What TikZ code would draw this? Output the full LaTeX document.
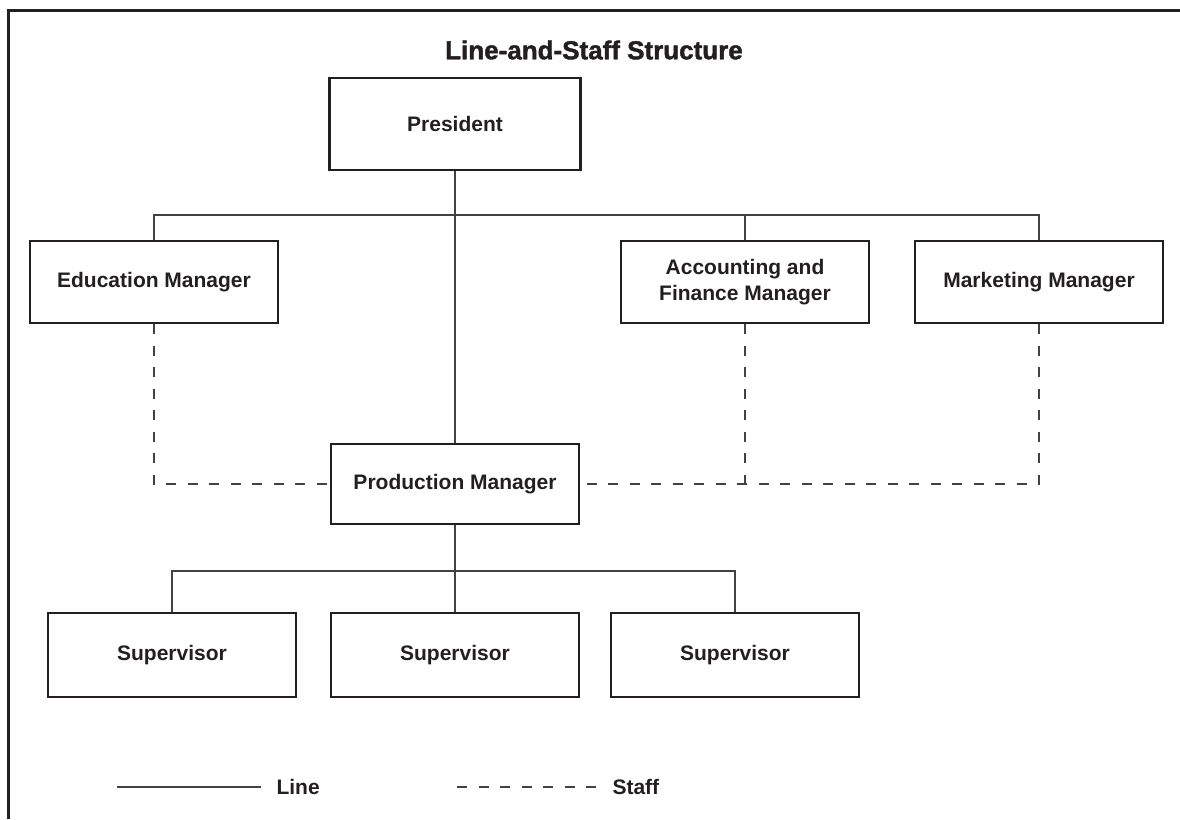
\documentclass[tikz,border=0pt]{standalone}
\usepackage{fontspec}
\setmainfont{Liberation Sans}
\newfontfamily\heavyfont[FakeBold=1.5]{Liberation Sans Bold}
\usetikzlibrary{positioning}
\definecolor{ink}{HTML}{231F20}

\tikzset{
  box/.style={draw=ink, line width=2.6pt, minimum width=248pt, minimum height=82pt,
    inner sep=0pt, align=center, text=ink, font=\fontsize{21}{26}\selectfont\bfseries},
  solidlink/.style={draw=ink!85, line width=1.1pt},
  stafflink/.style={draw=ink!85, line width=1.1pt, dash pattern=on 10pt off 11.5pt},
  legendtext/.style={text=ink, font=\fontsize{21}{26}\selectfont\bfseries}
}

\begin{document}
\begin{tikzpicture}[x=1pt, y=-1pt, node distance=12pt]
  \useasboundingbox (0,0) rectangle (1180,819);
  % open frame, top and left only
  \draw[ink, line width=3pt] (1180,10) -- (8,10) -- (8,819);
  \node[text=ink, font=\fontsize{26}{30}\heavyfont] (title) at (594,50) {Line-and-Staff Structure};

  \node[box, minimum width=251pt, minimum height=92pt] (pres) at (455,124) {President};
  \node[box] (edu) at (154,282) {Education Manager};
  \node[box] (acc) at (745,282) {Accounting and\\Finance Manager};
  \node[box] (mkt) at (1039,282) {Marketing Manager};
  \node[box, minimum height=80pt] (prod) at (455,484) {Production Manager};
  \node[box, minimum height=84pt] (sup1) at (172,655) {Supervisor};
  \node[box, minimum height=84pt] (sup2) at (455,655) {Supervisor};
  \node[box, minimum height=84pt] (sup3) at (735,655) {Supervisor};

  % line authority
  \coordinate (bus) at (0,215);
  \coordinate (subbus) at (0,571);
  \draw[solidlink] (pres.south) -- (prod.north);
  \draw[solidlink] (edu.north) |- (bus -| mkt.north) -- (mkt.north);
  \draw[solidlink] (acc.north) -- (acc.north |- bus);
  \draw[solidlink] (sup1.north) |- (subbus -| sup3.north) -- (sup3.north);
  \draw[solidlink] (prod.south) -- (sup2.north);

  % staff authority
  \draw[stafflink] (edu.south) |- (prod.west);
  \draw[stafflink] (mkt.south) |- (prod.east);
  \draw[stafflink] (acc.south) -- (acc.south |- prod.east);

  % legend
  \coordinate (l0) at (117,787);
  \coordinate (l1) at (261,787);
  \coordinate (s0) at (457,787);
  \coordinate (s1) at (597,787);
  \draw[solidlink] (l0) -- (l1);
  \node[legendtext, right=of l1] (ltext) {Line};
  \draw[stafflink] (s0) -- (s1);
  \node[legendtext, right=of s1] (stext) {Staff};
\end{tikzpicture}
\end{document}
